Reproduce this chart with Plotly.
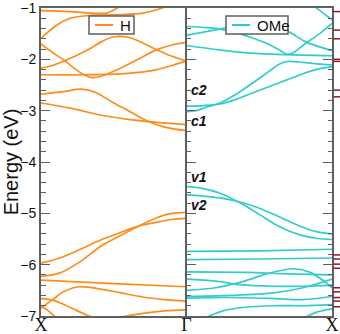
import plotly.graph_objects as go

# ---------------- data ----------------
# Left panel (H): k runs from X (0) to Gamma (1)
H_K = [
    [0, 0.2, 0.35, 0.45, 0.5, 0.54],
    [0, 0.1, 0.2, 0.35, 0.55, 0.7, 0.8, 0.86],
    [0, 0.07, 0.16, 0.26, 0.34, 0.4, 0.55, 0.68, 0.79, 0.9, 1.0],
    [0, 0.08, 0.16, 0.24, 0.32, 0.42, 0.5, 0.6, 0.7, 0.77, 0.88, 1.0],
    [0, 0.3, 0.5, 0.65, 0.78, 0.9, 1.0],
    [0, 0.15, 0.28, 0.38, 0.5, 0.6, 0.73, 0.85, 1.0],
    [0, 0.2, 0.4, 0.6, 0.8, 1.0],
    [0, 0.13, 0.27, 0.41, 0.54, 0.67, 0.8, 0.9, 1.0],
    [0, 0.13, 0.27, 0.41, 0.54, 0.67, 0.8, 0.9, 1.0],
    [0, 0.5, 1.0],
    [0, 0.08, 0.16, 0.26, 0.4, 0.55, 0.7, 0.85, 1.0],
    [0, 0.08, 0.16, 0.25, 0.33, 0.4],
    [0, 0.05, 0.1],
    [0.55, 0.7, 0.85, 1.0],
]
H_E = [
    [-1.05, -1.07, -1.10, -1.10, -1.04, -0.97],
    [-1.59, -1.35, -1.20, -1.14, -1.13, -1.10, -1.03, -0.97],
    [-1.70, -1.85, -2.02, -2.24, -2.35, -2.34, -2.17, -1.98, -1.82, -1.72, -1.67],
    [-2.17, -2.12, -2.03, -1.93, -1.82, -1.65, -1.56, -1.57, -1.68, -1.78, -1.92, -2.03],
    [-2.30, -2.30, -2.29, -2.26, -2.21, -2.12, -2.03],
    [-2.68, -2.63, -2.58, -2.65, -2.85, -3.00, -3.20, -3.32, -3.39],
    [-2.85, -2.95, -3.08, -3.17, -3.23, -3.27],
    [-6.23, -6.16, -5.94, -5.64, -5.44, -5.25, -5.08, -5.00, -4.98],
    [-5.97, -5.87, -5.70, -5.52, -5.38, -5.25, -5.17, -5.12, -5.10],
    [-6.30, -6.37, -6.43],
    [-6.85, -6.68, -6.52, -6.43, -6.47, -6.55, -6.63, -6.68, -6.71],
    [-6.66, -6.69, -6.78, -6.90, -7.00, -7.08],
    [-6.80, -6.90, -7.02],
    [-7.02, -6.95, -6.90, -6.88],
]

# Right panel (OMe): k runs from Gamma (0) to X (1)
OME_K = [
    [0, 0.12, 0.23, 0.35, 0.46, 0.56, 0.64, 0.69, 0.74, 0.8, 0.86, 0.92, 1.0],
    [0, 0.1, 0.21, 0.44, 0.67, 1.0],
    [0, 0.1, 0.19, 0.28, 0.4, 0.55, 0.7, 0.82, 1.0],
    [0, 0.08, 0.15, 0.23, 0.34, 0.45, 0.56, 0.64, 0.7, 0.8, 0.9, 1.0],
    [0, 0.12, 0.23, 0.34, 0.45, 0.57, 0.69, 0.8, 0.9, 1.0],
    [0.88, 0.94, 1.0],
    [0, 0.1, 0.23, 0.37, 0.5, 0.64, 0.78, 0.9, 1.0],
    [0, 0.1, 0.23, 0.38, 0.5, 0.64, 0.78, 0.9, 1.0],
    [0, 0.5, 1.0],
    [0, 0.5, 1.0],
    [0, 0.4, 0.7, 1.0],
    [0, 0.2, 0.37, 0.6, 0.8, 1.0],
    [0, 0.2, 0.4, 0.55, 0.74, 0.85, 0.95, 1.0],
    [0, 0.3, 0.6, 0.8, 1.0],
    [0, 0.3, 0.6, 0.8, 1.0],
    [0.14, 0.25, 0.4, 0.6, 0.8, 1.0],
    [0.82, 0.9, 1.0],
]
OME_E = [
    [-1.36, -1.38, -1.41, -1.49, -1.59, -1.70, -1.82, -1.90, -1.86, -1.73, -1.61, -1.49, -1.30],
    [-1.73, -1.77, -1.81, -1.88, -1.91, -1.93],
    [-1.53, -1.48, -1.43, -1.38, -1.32, -1.32, -1.46, -1.66, -1.83],
    [-3.02, -2.99, -2.92, -2.85, -2.68, -2.47, -2.25, -2.09, -2.04, -2.06, -2.09, -2.11],
    [-2.91, -2.90, -2.87, -2.78, -2.66, -2.53, -2.40, -2.28, -2.19, -2.14],
    [-0.97, -1.10, -1.23],
    [-4.48, -4.51, -4.61, -4.80, -5.02, -5.26, -5.42, -5.49, -5.51],
    [-4.64, -4.66, -4.70, -4.79, -4.90, -5.07, -5.25, -5.36, -5.40],
    [-5.74, -5.73, -5.70],
    [-5.90, -5.89, -5.87],
    [-6.14, -6.15, -6.18, -6.20],
    [-6.28, -6.32, -6.39, -6.42, -6.42, -6.40],
    [-6.50, -6.45, -6.32, -6.18, -6.08, -6.15, -6.33, -6.45],
    [-6.62, -6.60, -6.55, -6.45, -6.28],
    [-6.65, -6.64, -6.66, -6.68, -6.62],
    [-7.02, -6.90, -6.83, -6.80, -6.80, -6.78],
    [-7.02, -6.92, -6.86],
]

LEFT_TICKS = [0]
LEFT_LABELS = ["X"]
RIGHT_TICKS = [0, 1]
RIGHT_LABELS = ["Γ", "X"]

SERIES_NAMES = ["H", "OMe"]

STATE_NAMES = ["c2", "c1", "v1", "v2"]
STATE_E = [-2.60, -3.21, -4.29, -4.83]

MOL_LEVELS = [-1.07, -1.43, -1.60, -2.00, -2.04, -2.60, -2.73,
              -5.81, -5.89, -5.99, -6.07, -6.45, -6.53, -6.64, -6.71, -6.82]

E_RANGE = [-7, -1]

# ---------------- styling ----------------
ORANGE = "#ff8c1a"
CYAN = "#33cccc"
AXC = "#5f5f5f"
SANS = "Liberation Sans, Arial, sans-serif"
SERIF = "Liberation Serif, Times New Roman, serif"

W, H = 340, 334
ML, MR, MT, MB = 41, 8, 8, 18
PW, PH = W - ML - MR, H - MT - MB


def px2paper(px, py):
    return (px - ML) / PW, 1 - (py - MT) / PH


fig = go.Figure()

for i, (k, e) in enumerate(zip(H_K, H_E)):
    fig.add_trace(go.Scatter(
        x=k, y=e, mode="lines", name=SERIES_NAMES[0],
        showlegend=False, hoverinfo="skip",
        line=dict(color=ORANGE, width=1.7, shape="spline", smoothing=0.9),
        xaxis="x", yaxis="y"))

for i, (k, e) in enumerate(zip(OME_K, OME_E)):
    fig.add_trace(go.Scatter(
        x=k, y=e, mode="lines", name=SERIES_NAMES[1],
        showlegend=False, hoverinfo="skip",
        line=dict(color=CYAN, width=1.7, shape="spline", smoothing=0.9),
        xaxis="x2", yaxis="y2"))

common_x = dict(range=[0, 1], showline=True, linecolor=AXC, linewidth=2,
                mirror=True, ticks="", showgrid=False, zeroline=False,
                automargin=False, ticklabeloverflow="allow", ticklabelstandoff=-9,
                tickfont=dict(family=SERIF, size=18, color="#111"))
minor = dict(ticks="inside", ticklen=4.5, tickwidth=1.4, tickcolor=AXC, dtick=0.2, showgrid=False)
common_y = dict(range=E_RANGE, showline=True, linecolor=AXC, linewidth=2,
                ticks="inside", ticklen=9, tickwidth=1.4, tickcolor=AXC,
                tick0=-7, dtick=1, minor=minor, showgrid=False, zeroline=False,
                automargin=False, ticklabeloverflow="allow")

fig.update_layout(
    width=W, height=H,
    margin=dict(l=ML, r=MR, t=MT, b=MB, autoexpand=False),
    paper_bgcolor="white", plot_bgcolor="white",
    font=dict(family=SANS, color="#111"),
    showlegend=False,
    xaxis=dict(domain=[0, 0.5], anchor="y", tickvals=LEFT_TICKS, ticktext=LEFT_LABELS, **common_x),
    xaxis2=dict(domain=[0.5, 1], anchor="y2", tickvals=RIGHT_TICKS, ticktext=RIGHT_LABELS, **common_x),
    yaxis=dict(anchor="x", mirror=False, tickfont=dict(size=14, color="#111"),
               title=dict(text="Energy (eV)", font=dict(size=20, color="#111"), standoff=6),
               **common_y),
    yaxis2=dict(anchor="x2", mirror="ticks", showticklabels=False, **common_y),
)

# legend boxes (drawn as shapes + text, in pixel-derived paper coordinates)
legend_boxes = [
    (SERIES_NAMES[0], ORANGE, 89, 134),
    (SERIES_NAMES[1], CYAN, 226, 288),
]
for name, col, bx0, bx1 in legend_boxes:
    x0, y0 = px2paper(bx0, 16)
    x1, y1 = px2paper(bx1, 34)
    fig.add_shape(type="rect", xref="paper", yref="paper", x0=x0, x1=x1, y0=y1, y1=y0,
                  line=dict(color=AXC, width=1.5), fillcolor="white", layer="above")
    lx0, ly = px2paper(bx0 + 6, 25)
    lx1, _ = px2paper(bx0 + 24, 25)
    fig.add_shape(type="line", xref="paper", yref="paper", x0=lx0, x1=lx1, y0=ly, y1=ly,
                  line=dict(color=col, width=2), layer="above")
    tx, _ = px2paper(bx0 + 29, 25)
    fig.add_annotation(x=tx, y=ly, xref="paper", yref="paper", xanchor="left", yanchor="middle",
                       showarrow=False, text=name, font=dict(size=15, color="#111", family=SANS))

for name, e in zip(STATE_NAMES, STATE_E):
    fig.add_annotation(x=0, y=e, xref="x2", yref="y2", xanchor="left", yanchor="middle",
                       xshift=2, showarrow=False,
                       text="<b><i>%s</i></b>" % name,
                       font=dict(size=14, color="#111", family=SANS))

for e in MOL_LEVELS:
    fig.add_shape(type="line", xref="paper", yref="y2", x0=1.005, x1=1.03, y0=e, y1=e,
                  line=dict(color="#8b1a2a", width=1.5), layer="above")

fig.write_html("out.html")
